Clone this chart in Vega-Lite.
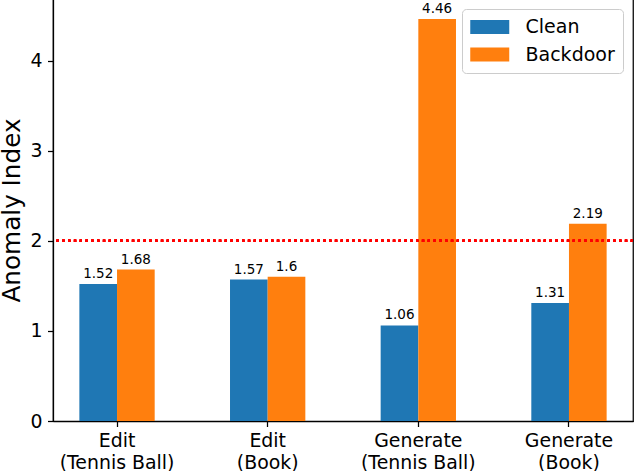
{
  "$schema": "https://vega.github.io/schema/vega-lite/v6.json",
  "width": 580,
  "height": 422,
  "autosize": {"type": "none"},
  "padding": {"left": 53, "top": -1, "right": 1, "bottom": 50},
  "background": "white",
  "config": {
    "font": "DejaVu Sans",
    "view": {"stroke": "black", "strokeWidth": 1.25},
    "axis": {
      "grid": false,
      "domainColor": "black",
      "domainWidth": 1.25,
      "tickColor": "black",
      "tickWidth": 1.25,
      "tickSize": 5.5,
      "labelColor": "black",
      "labelFontSize": 18.9,
      "labelPadding": 5.5,
      "titleColor": "black"
    }
  },
  "data": {
    "values": [
      {"task": "Edit|(Tennis Ball)", "series": "Clean", "value": 1.52},
      {"task": "Edit|(Tennis Ball)", "series": "Backdoor", "value": 1.68},
      {"task": "Edit|(Book)", "series": "Clean", "value": 1.57},
      {"task": "Edit|(Book)", "series": "Backdoor", "value": 1.6},
      {"task": "Generate|(Tennis Ball)", "series": "Clean", "value": 1.06},
      {"task": "Generate|(Tennis Ball)", "series": "Backdoor", "value": 4.46},
      {"task": "Generate|(Book)", "series": "Clean", "value": 1.31},
      {"task": "Generate|(Book)", "series": "Backdoor", "value": 2.19}
    ]
  },
  "encoding": {
    "x": {
      "field": "task",
      "type": "nominal",
      "sort": ["Edit|(Tennis Ball)", "Edit|(Book)", "Generate|(Tennis Ball)", "Generate|(Book)"],
      "scale": {"paddingInner": 0.5, "paddingOuter": 0.175},
      "axis": {
        "title": null,
        "labelAngle": 0,
        "labelExpr": "split(datum.label, '|')",
        "labelLineHeight": 21.5,
        "labelPadding": 5
      }
    },
    "xOffset": {
      "field": "series",
      "type": "nominal",
      "sort": ["Clean", "Backdoor"],
      "scale": {"paddingInner": 0, "paddingOuter": 0}
    },
    "y": {
      "field": "value",
      "type": "quantitative",
      "scale": {"domain": [0, 4.683], "nice": false, "zero": true},
      "axis": {
        "values": [0, 1, 2, 3, 4],
        "title": "Anomaly Index",
        "titleFontSize": 24.7,
        "titleFontWeight": "normal",
        "titlePadding": 5.5
      }
    }
  },
  "layer": [
    {
      "mark": {"type": "bar"},
      "encoding": {
        "color": {
          "field": "series",
          "type": "nominal",
          "scale": {"domain": ["Clean", "Backdoor"], "range": ["#1f77b4", "#ff7f0e"]},
          "legend": {
            "title": null,
            "orient": "none",
            "legendX": 409,
            "legendY": 10,
            "padding": 8,
            "cornerRadius": 4,
            "strokeColor": "#cccccc",
            "fillColor": "rgba(255,255,255,0.8)",
            "symbolType": "M-1,-0.72H3V0.72H-1Z",
            "symbolSize": 380.25,
            "symbolStrokeWidth": 0,
            "labelFontSize": 19,
            "labelColor": "black",
            "labelOffset": 35.5,
            "rowPadding": 7.5
          }
        }
      }
    },
    {
      "mark": {"type": "text", "baseline": "alphabetic", "dy": -6, "fontSize": 13.5, "color": "black"},
      "encoding": {
        "text": {"field": "value", "type": "quantitative"}
      }
    },
    {
      "mark": {"type": "rule", "color": "red", "strokeWidth": 2.3, "strokeDash": [2.3, 3.5]},
      "encoding": {
        "x": null,
        "xOffset": null,
        "y": {"datum": 2}
      }
    }
  ]
}
